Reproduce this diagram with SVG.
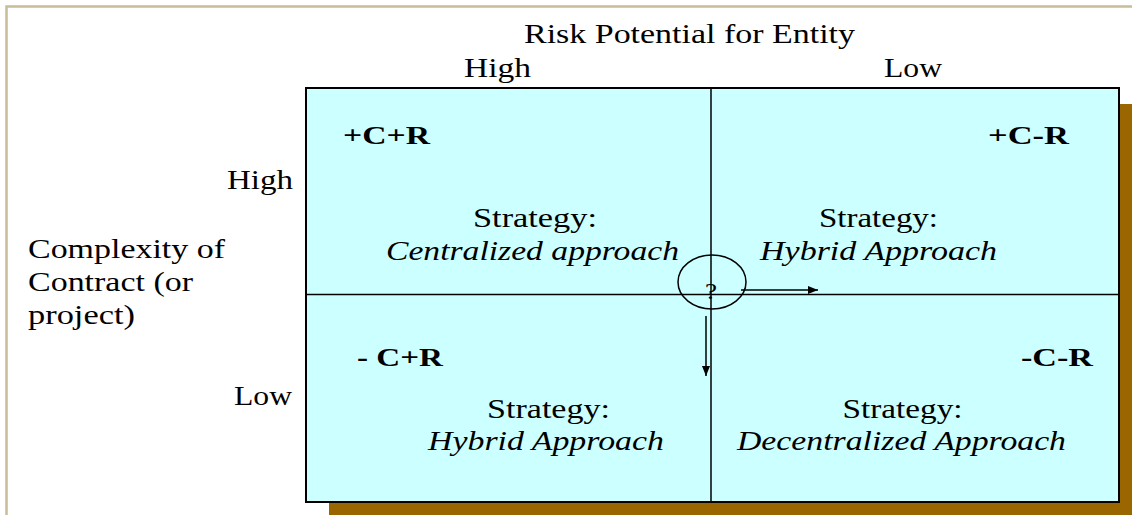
<svg xmlns="http://www.w3.org/2000/svg" width="1132" height="515" viewBox="0 0 1132 515" font-family="'Liberation Serif','Times New Roman',serif">
<style>
text{font-family:"Liberation Serif","Times New Roman",serif;fill:#000}
.lbl{font-size:27px}
.b{font-size:25px;font-weight:bold}
.st{font-size:27px;text-anchor:middle}
.it{font-style:italic}
.ln{stroke:#000;stroke-width:1.5;fill:none}
</style>
<defs>
<marker id="ah" viewBox="0 0 10 8" refX="10" refY="4" markerWidth="10" markerHeight="8" markerUnits="userSpaceOnUse" orient="auto">
<path d="M0,0 L10,4 L0,8 Z" fill="#000"/>
</marker>
</defs>
<rect x="0" y="0" width="1132" height="515" fill="#fff"/>
<rect x="6.5" y="6.5" width="1140" height="530" fill="none" stroke="#c8bd98" stroke-width="2.5"/>
<g id="matrix">
<rect x="329" y="104" width="813" height="414" fill="#996600"/>
<rect x="306" y="88" width="813" height="414" fill="#ccffff" stroke="#000" stroke-width="2"/>
<line class="ln" x1="711" y1="88" x2="711" y2="502"/>
<line class="ln" x1="306" y1="294.5" x2="1119" y2="294.5"/>
</g>
<g id="axis-labels">
<text class="lbl" x="524" y="43" textLength="331" lengthAdjust="spacingAndGlyphs">Risk Potential for Entity</text>
<text class="lbl" x="464" y="77" textLength="67" lengthAdjust="spacingAndGlyphs">High</text>
<text class="lbl" x="884" y="77" textLength="58" lengthAdjust="spacingAndGlyphs">Low</text>
<text class="lbl" x="227" y="189" textLength="66" lengthAdjust="spacingAndGlyphs">High</text>
<text class="lbl" x="234" y="405" textLength="58" lengthAdjust="spacingAndGlyphs">Low</text>
<text class="lbl" x="28" y="258" textLength="197" lengthAdjust="spacingAndGlyphs">Complexity of</text>
<text class="lbl" x="28" y="291" textLength="165" lengthAdjust="spacingAndGlyphs">Contract (or</text>
<text class="lbl" x="28" y="324" textLength="107" lengthAdjust="spacingAndGlyphs">project)</text>
</g>
<g id="q-high-high">
<text class="b" x="343" y="144" textLength="87" lengthAdjust="spacingAndGlyphs">+C+R</text>
<text class="st" x="535" y="227" textLength="124" lengthAdjust="spacingAndGlyphs">Strategy:</text>
<text class="st it" x="532.5" y="260" textLength="293" lengthAdjust="spacingAndGlyphs">Centralized approach</text>
</g>
<g id="q-high-low">
<text class="b" x="988" y="144" textLength="81" lengthAdjust="spacingAndGlyphs">+C-R</text>
<text class="st" x="878.5" y="227" textLength="119" lengthAdjust="spacingAndGlyphs">Strategy:</text>
<text class="st it" x="878.5" y="260" textLength="237" lengthAdjust="spacingAndGlyphs">Hybrid Approach</text>
</g>
<g id="q-low-high">
<text class="b" x="357" y="366" textLength="86" lengthAdjust="spacingAndGlyphs">- C+R</text>
<text class="st" x="548.5" y="418" textLength="123" lengthAdjust="spacingAndGlyphs">Strategy:</text>
<text class="st it" x="546" y="450" textLength="236" lengthAdjust="spacingAndGlyphs">Hybrid Approach</text>
</g>
<g id="q-low-low">
<text class="b" x="1021" y="366" textLength="72" lengthAdjust="spacingAndGlyphs">-C-R</text>
<text class="st" x="902.5" y="418" textLength="120" lengthAdjust="spacingAndGlyphs">Strategy:</text>
<text class="st it" x="901.5" y="450" textLength="329" lengthAdjust="spacingAndGlyphs">Decentralized Approach</text>
</g>
<g id="question">
<ellipse class="ln" cx="712" cy="282" rx="34" ry="27"/>
<text x="705" y="299" style="font-size:24px" textLength="12" lengthAdjust="spacingAndGlyphs">?</text>
</g>
<g id="connectors">
<line class="ln" x1="741" y1="290" x2="818" y2="290" marker-end="url(#ah)"/>
<line class="ln" x1="706" y1="316" x2="706" y2="376" marker-end="url(#ah)"/>
</g>
</svg>
